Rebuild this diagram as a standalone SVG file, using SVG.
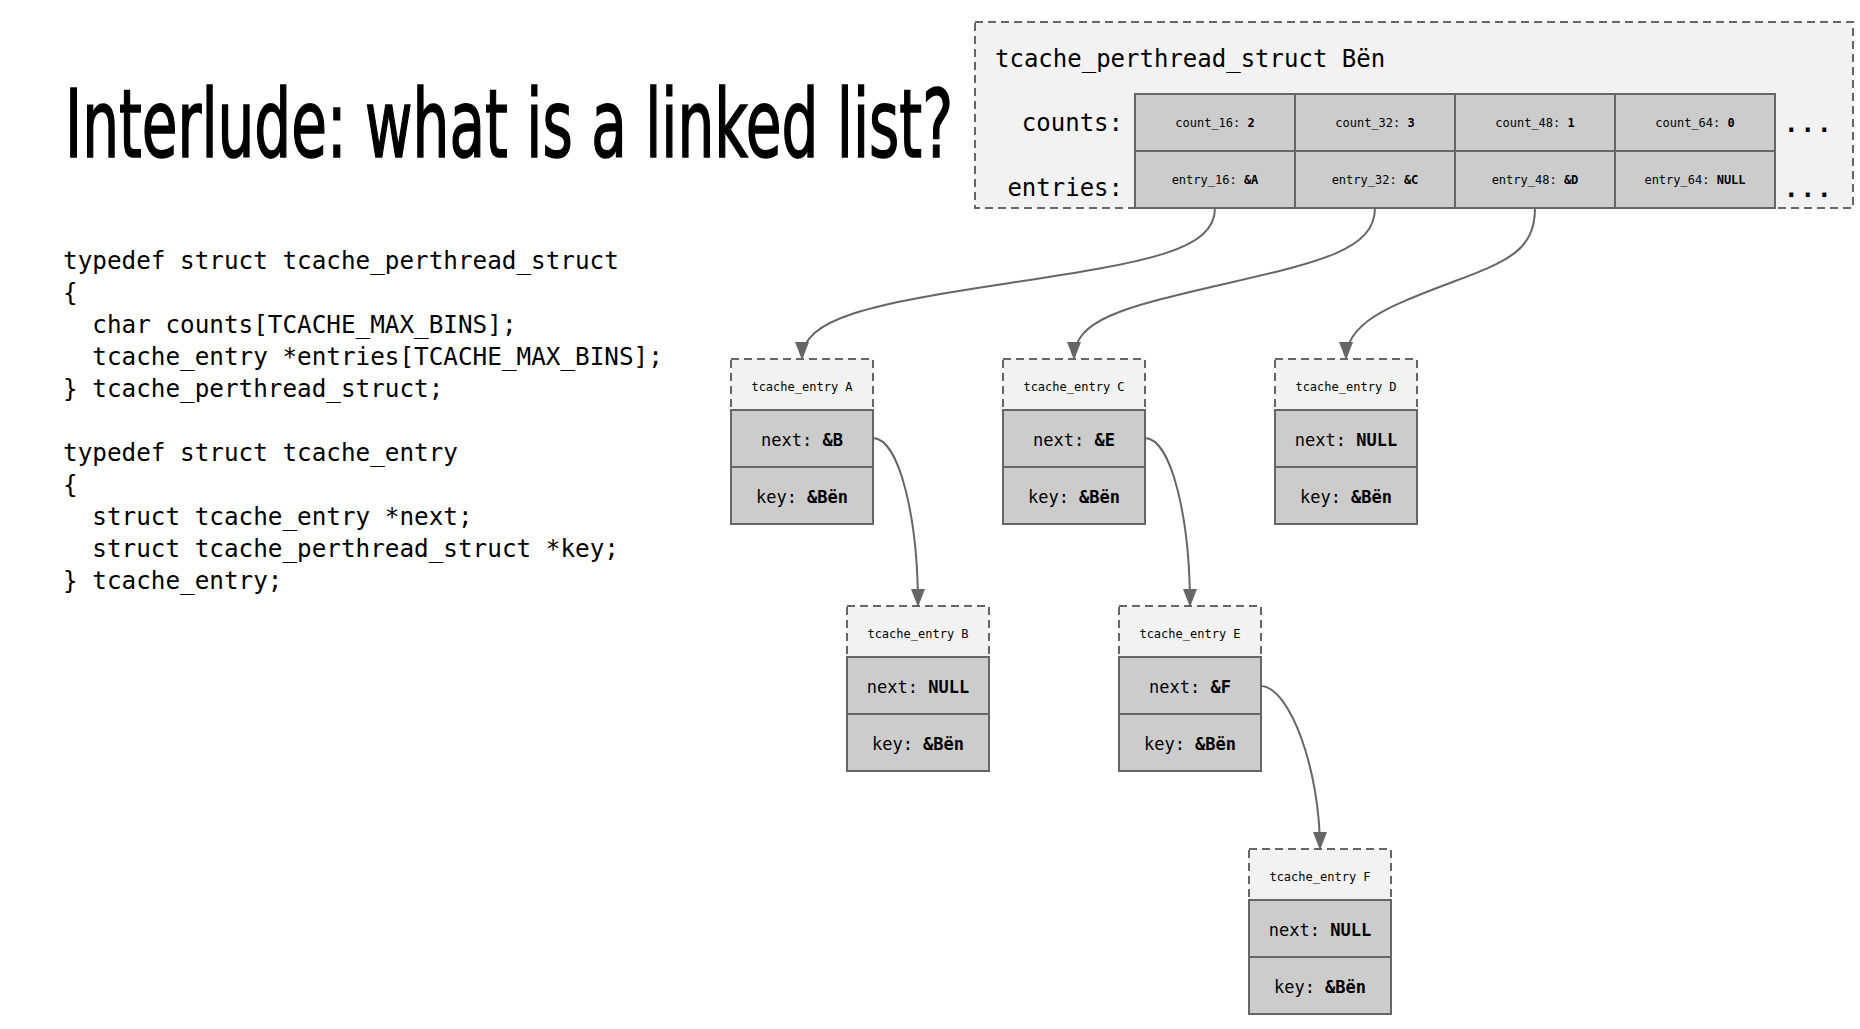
<svg xmlns="http://www.w3.org/2000/svg" width="1860" height="1029" viewBox="0 0 1860 1029">
<style>
.mono{font-family:"DejaVu Sans Mono","Liberation Mono",monospace;fill:#000}
.code{font-size:24.3px}
.hdr{fill:#f2f2f2;stroke:#666;stroke-width:2;stroke-dasharray:8 5}
.cell{fill:#cccccc;stroke:#666;stroke-width:2}
.small{font-size:12px;text-anchor:middle}
.row{font-size:17px;text-anchor:middle}
.b{font-weight:bold}
.conn{fill:none;stroke:#666;stroke-width:2}
</style>
<defs>
<marker id="arr" markerUnits="userSpaceOnUse" markerWidth="18" markerHeight="14" refX="17" refY="7" orient="auto">
<path d="M0,0 L18,7 L0,14 z" fill="#666"/>
</marker>
</defs>
<rect width="1860" height="1029" fill="#fff"/>

<text x="65" y="157" font-family="Liberation Sans Narrow,DejaVu Sans Condensed,sans-serif" font-size="95" textLength="888" lengthAdjust="spacingAndGlyphs" fill="#000" stroke="#000" stroke-width="1.6">Interlude: what is a linked list?</text>

<g id="code" class="mono code">
<text x="63" y="269">typedef struct tcache_perthread_struct</text>
<text x="63" y="301">{</text>
<text x="92.3" y="333">char counts[TCACHE_MAX_BINS];</text>
<text x="92.3" y="365">tcache_entry *entries[TCACHE_MAX_BINS];</text>
<text x="63" y="397">} tcache_perthread_struct;</text>
<text x="63" y="461">typedef struct tcache_entry</text>
<text x="63" y="493">{</text>
<text x="92.3" y="525">struct tcache_entry *next;</text>
<text x="92.3" y="557">struct tcache_perthread_struct *key;</text>
<text x="63" y="589">} tcache_entry;</text>
</g>

<g id="perthread">
<rect class="hdr" x="975" y="22" width="878" height="186"/>
<text class="mono" x="995" y="67" font-size="24">tcache_perthread_struct Bën</text>
<text class="mono" x="1123" y="131" font-size="24" text-anchor="end">counts:</text>
<text class="mono" x="1123" y="196" font-size="24" text-anchor="end">entries:</text>
<rect class="cell" x="1135" y="94" width="160" height="57"/>
<rect class="cell" x="1295" y="94" width="160" height="57"/>
<rect class="cell" x="1455" y="94" width="160" height="57"/>
<rect class="cell" x="1615" y="94" width="160" height="57"/>
<rect class="cell" x="1135" y="151" width="160" height="57"/>
<rect class="cell" x="1295" y="151" width="160" height="57"/>
<rect class="cell" x="1455" y="151" width="160" height="57"/>
<rect class="cell" x="1615" y="151" width="160" height="57"/>
<text class="mono small" x="1215" y="127">count_16: <tspan class="b">2</tspan></text>
<text class="mono small" x="1375" y="127">count_32: <tspan class="b">3</tspan></text>
<text class="mono small" x="1535" y="127">count_48: <tspan class="b">1</tspan></text>
<text class="mono small" x="1695" y="127">count_64: <tspan class="b">0</tspan></text>
<text class="mono small" x="1215" y="184">entry_16: <tspan class="b">&amp;A</tspan></text>
<text class="mono small" x="1375" y="184">entry_32: <tspan class="b">&amp;C</tspan></text>
<text class="mono small" x="1535" y="184">entry_48: <tspan class="b">&amp;D</tspan></text>
<text class="mono small" x="1695" y="184">entry_64: <tspan class="b">NULL</tspan></text>
<text class="mono b" x="1784" y="132" font-size="24" letter-spacing="2">...</text>
<text class="mono b" x="1784" y="197" font-size="24" letter-spacing="2">...</text>
</g>

<g id="entryA">
<rect class="hdr" x="731" y="359" width="142" height="51"/>
<rect class="cell" x="731" y="410" width="142" height="57"/>
<rect class="cell" x="731" y="467" width="142" height="57"/>
<text class="mono small" x="802" y="391">tcache_entry A</text>
<text class="mono row" x="802" y="446">next: <tspan class="b">&amp;B</tspan></text>
<text class="mono row" x="802" y="503">key: <tspan class="b">&amp;Bën</tspan></text>
</g>

<g id="entryC">
<rect class="hdr" x="1003" y="359" width="142" height="51"/>
<rect class="cell" x="1003" y="410" width="142" height="57"/>
<rect class="cell" x="1003" y="467" width="142" height="57"/>
<text class="mono small" x="1074" y="391">tcache_entry C</text>
<text class="mono row" x="1074" y="446">next: <tspan class="b">&amp;E</tspan></text>
<text class="mono row" x="1074" y="503">key: <tspan class="b">&amp;Bën</tspan></text>
</g>

<g id="entryD">
<rect class="hdr" x="1275" y="359" width="142" height="51"/>
<rect class="cell" x="1275" y="410" width="142" height="57"/>
<rect class="cell" x="1275" y="467" width="142" height="57"/>
<text class="mono small" x="1346" y="391">tcache_entry D</text>
<text class="mono row" x="1346" y="446">next: <tspan class="b">NULL</tspan></text>
<text class="mono row" x="1346" y="503">key: <tspan class="b">&amp;Bën</tspan></text>
</g>

<g id="entryB">
<rect class="hdr" x="847" y="606" width="142" height="51"/>
<rect class="cell" x="847" y="657" width="142" height="57"/>
<rect class="cell" x="847" y="714" width="142" height="57"/>
<text class="mono small" x="918" y="638">tcache_entry B</text>
<text class="mono row" x="918" y="693">next: <tspan class="b">NULL</tspan></text>
<text class="mono row" x="918" y="750">key: <tspan class="b">&amp;Bën</tspan></text>
</g>

<g id="entryE">
<rect class="hdr" x="1119" y="606" width="142" height="51"/>
<rect class="cell" x="1119" y="657" width="142" height="57"/>
<rect class="cell" x="1119" y="714" width="142" height="57"/>
<text class="mono small" x="1190" y="638">tcache_entry E</text>
<text class="mono row" x="1190" y="693">next: <tspan class="b">&amp;F</tspan></text>
<text class="mono row" x="1190" y="750">key: <tspan class="b">&amp;Bën</tspan></text>
</g>

<g id="entryF">
<rect class="hdr" x="1249" y="849" width="142" height="51"/>
<rect class="cell" x="1249" y="900" width="142" height="57"/>
<rect class="cell" x="1249" y="957" width="142" height="57"/>
<text class="mono small" x="1320" y="881">tcache_entry F</text>
<text class="mono row" x="1320" y="936">next: <tspan class="b">NULL</tspan></text>
<text class="mono row" x="1320" y="993">key: <tspan class="b">&amp;Bën</tspan></text>
</g>

<g id="connectors">
<path class="conn" marker-end="url(#arr)" d="M1215,208 C1215,250 1150,262 1010,283 C870,304 802,318 802,359"/>
<path class="conn" marker-end="url(#arr)" d="M1375,208 C1375,250 1320,262 1220,285 C1120,308 1074,320 1074,359"/>
<path class="conn" marker-end="url(#arr)" d="M1535,208 C1535,252 1505,262 1450,283 C1390,306 1346,322 1346,359"/>
<path class="conn" marker-end="url(#arr)" d="M873,438 C900,439 918,520 918,606"/>
<path class="conn" marker-end="url(#arr)" d="M1145,438 C1172,439 1190,520 1190,606"/>
<path class="conn" marker-end="url(#arr)" d="M1261,686 C1290,687 1320,770 1320,849"/>
</g>
</svg>
